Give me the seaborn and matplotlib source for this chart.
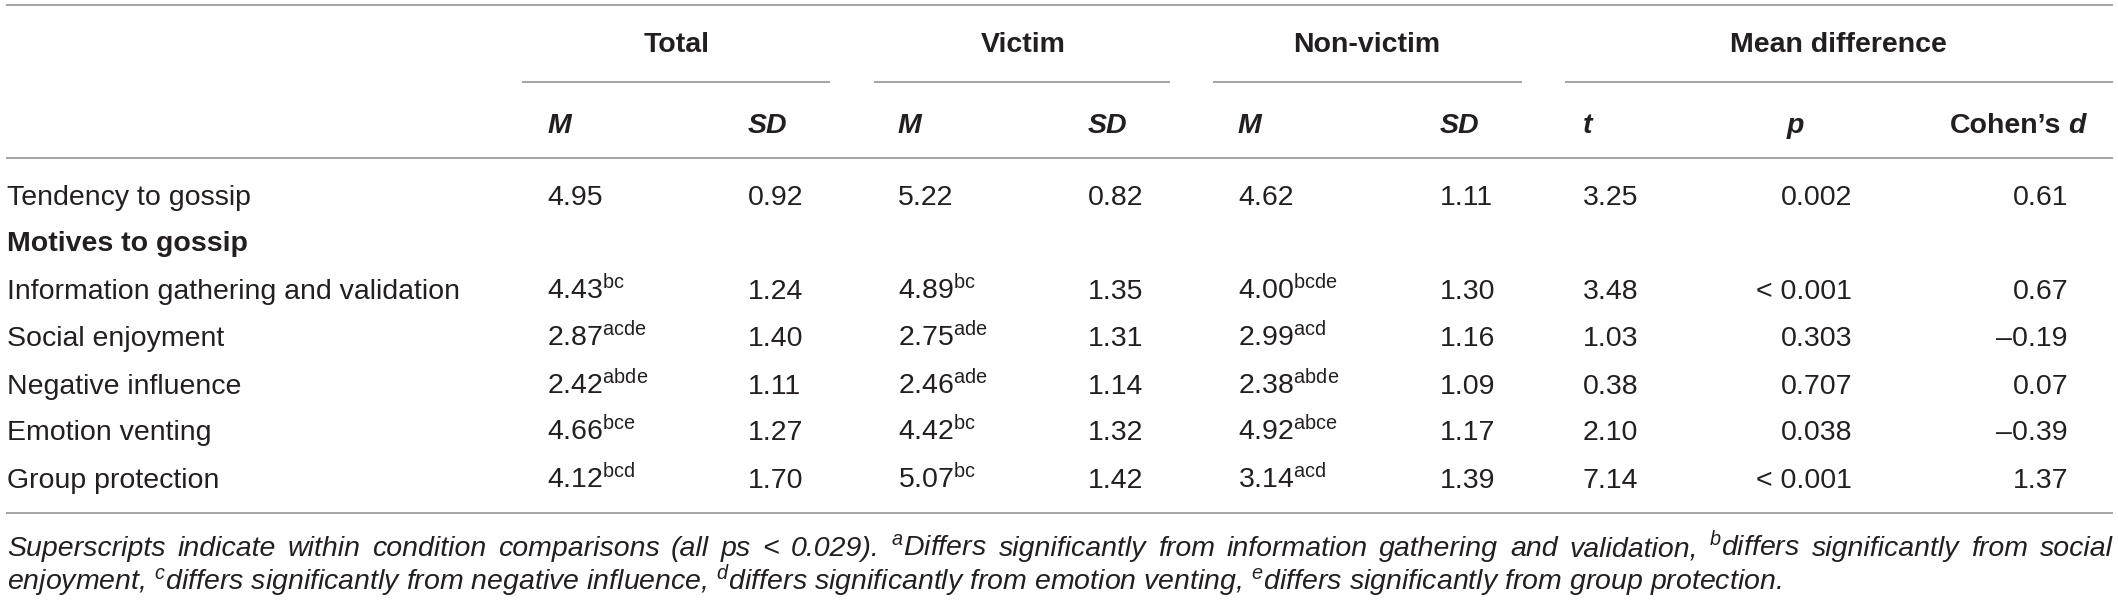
import matplotlib
matplotlib.use("Agg")
import matplotlib.pyplot as plt
import seaborn as sns

# table content
row_labels = ["Tendency to gossip", "Motives to gossip",
              "Information gathering and validation", "Social enjoyment",
              "Negative influence", "Emotion venting", "Group protection"]
bold_rows = [False, True, False, False, False, False, False]

total_m = [4.95, None, 4.43, 2.87, 2.42, 4.66, 4.12]
total_m_sup = ["", "", "bc", "acde", "abde", "bce", "bcd"]
total_sd = [0.92, None, 1.24, 1.40, 1.11, 1.27, 1.70]
victim_m = [5.22, None, 4.89, 2.75, 2.46, 4.42, 5.07]
victim_m_sup = ["", "", "bc", "ade", "ade", "bc", "bc"]
victim_sd = [0.82, None, 1.35, 1.31, 1.14, 1.32, 1.42]
nonvictim_m = [4.62, None, 4.00, 2.99, 2.38, 4.92, 3.14]
nonvictim_m_sup = ["", "", "bcde", "acd", "abde", "abce", "acd"]
nonvictim_sd = [1.11, None, 1.30, 1.16, 1.09, 1.17, 1.39]
t_vals = [3.25, None, 3.48, 1.03, 0.38, 2.10, 7.14]
p_vals = [0.002, None, 0.001, 0.303, 0.707, 0.038, 0.001]
p_below = [False, False, True, False, False, False, True]
cohen_d = [0.61, None, 0.67, -0.19, 0.07, -0.39, 1.37]

group_headers = ["Total", "Victim", "Non-victim", "Mean difference"]
sub_headers = ["M", "SD", "M", "SD", "M", "SD", "t", "p"]

note_line1 = ("Superscripts indicate within condition comparisons (all ps < 0.029). "
              "$^{a}$Differs significantly from information gathering and validation, "
              "$^{b}$differs significantly from social")
note_line2 = ("enjoyment, $^{c}$differs significantly from negative influence, "
              "$^{d}$differs significantly from emotion venting, "
              "$^{e}$differs significantly from group protection.")

# layout (pixels, origin top-left)
W, H = 2118, 605
x_left, x_right = 6, 2113
group_cx = [677, 1023, 1367, 1838]
group_lines = [(522, 830), (874, 1170), (1213, 1522), (1565, 2113)]
sub_x = [547, 748, 898, 1088, 1238, 1440, 1583, 1795]
sub_ha = ["left"] * 7 + ["center"]
row_base = [205, 251, 299, 346, 394, 440, 488]
ink = "#231f20"
rule = "#8a8a8a"
fs = 20.5

sns.set_theme(style="white")
plt.rcParams["font.family"] = ["Liberation Sans", "DejaVu Sans"]
plt.rcParams["mathtext.fontset"] = "custom"
plt.rcParams["mathtext.rm"] = "Liberation Sans"
plt.rcParams["mathtext.it"] = "Liberation Sans:italic"
plt.rcParams["mathtext.bf"] = "Liberation Sans:bold"

fig = plt.figure(figsize=(W / 100, H / 100), dpi=100)
ax = fig.add_axes([0, 0, 1, 1])
ax.set_xlim(0, W)
ax.set_ylim(H, 0)
ax.axis("off")

# rules
ax.hlines([5, 158, 513], x_left, x_right, color=rule, lw=1.1)
for x0, x1 in group_lines:
    ax.hlines(82, x0, x1, color=rule, lw=1.1)

# headers
for name, cx in zip(group_headers, group_cx):
    ax.text(cx, 52, name, ha="center", va="baseline", fontsize=fs,
            fontweight="bold", color=ink)
for name, x, ha in zip(sub_headers, sub_x, sub_ha):
    ax.text(x, 133, name, ha=ha, va="baseline", fontsize=fs,
            fontweight="bold", fontstyle="italic", color=ink)
d_txt = ax.text(2086, 133, "d", ha="right", va="baseline", fontsize=fs,
                fontweight="bold", fontstyle="italic", color=ink)
fig.canvas.draw()
renderer = fig.canvas.get_renderer()
d_x0 = d_txt.get_window_extent(renderer).x0
ax.text(d_x0 - 7, 133, "Cohen\u2019s", ha="right", va="baseline", fontsize=fs,
        fontweight="bold", color=ink)


def cell(v, sup=""):
    s = f"{v:.2f}"
    if sup:
        s += "$^{\\mathrm{" + sup + "}}$"
    return s


for i, lab in enumerate(row_labels):
    yb = row_base[i]
    ax.text(7, yb, lab, ha="left", va="baseline", fontsize=fs, color=ink,
            fontweight="bold" if bold_rows[i] else "normal")
    if total_m[i] is None:
        continue
    left_cells = [(547, cell(total_m[i], total_m_sup[i])),
                  (748, cell(total_sd[i])),
                  (898, cell(victim_m[i], victim_m_sup[i])),
                  (1088, cell(victim_sd[i])),
                  (1238, cell(nonvictim_m[i], nonvictim_m_sup[i])),
                  (1440, cell(nonvictim_sd[i])),
                  (1583, cell(t_vals[i]))]
    for x, s in left_cells:
        ax.text(x, yb, s, ha="left", va="baseline", fontsize=fs, color=ink)
    p_s = f"< {p_vals[i]:.3f}" if p_below[i] else f"{p_vals[i]:.3f}"
    ax.text(1852, yb, p_s, ha="right", va="baseline", fontsize=fs, color=ink)
    d = cohen_d[i]
    d_s = f"{d:.2f}" if d >= 0 else "\u2013" + f"{abs(d):.2f}"
    ax.text(2068, yb, d_s, ha="right", va="baseline", fontsize=fs, color=ink)

# footnote, first line justified
words = note_line1.split(" ")
word_txts = [ax.text(0, 556, w, ha="left", va="baseline", fontsize=fs,
                     fontstyle="italic", color=ink) for w in words]
widths = [t.get_window_extent(renderer).width for t in word_txts]
gap = (x_right - 7 - sum(widths)) / (len(words) - 1)
x = 7
for t, w in zip(word_txts, widths):
    t.set_x(x)
    x += w + gap
ax.text(7, 590, note_line2, ha="left", va="baseline", fontsize=fs,
        fontstyle="italic", color=ink)

fig.savefig("out.png", dpi=100, facecolor="white")
